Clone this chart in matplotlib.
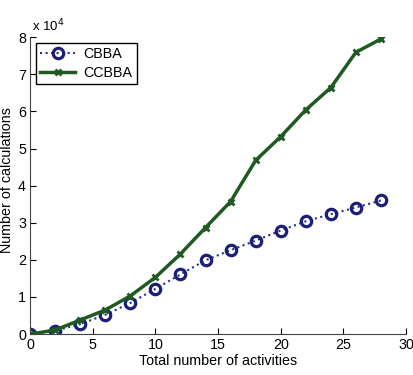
import numpy as np
import matplotlib
matplotlib.use("Agg")
import matplotlib.pyplot as plt

plt.rcParams['font.family'] = ['Liberation Sans', 'DejaVu Sans']

# -----------------------------
# Data (y in units of 1e4)
# -----------------------------
activities = [0, 2, 4, 6, 8, 10, 12, 14, 16, 18, 20, 22, 24, 26, 28]
cbba = [0.0, 0.09, 0.27, 0.52, 0.84, 1.22, 1.61, 1.99, 2.26, 2.52, 2.79, 3.04, 3.23, 3.41, 3.60]
ccbba = [0.0, 0.11, 0.38, 0.65, 1.03, 1.53, 2.16, 2.87, 3.57, 4.68, 5.32, 6.04, 6.64, 7.59, 7.95]
x_ticks = [0, 5, 10, 15, 20, 25, 30]
y_ticks = [0, 1, 2, 3, 4, 5, 6, 7, 8]

# -----------------------------
# Plot
# -----------------------------
fig = plt.figure(figsize=(4.13, 3.75), dpi=100)
ax = fig.add_axes([0.073, 0.109, 0.910, 0.792])

ax.plot(activities, cbba, linestyle=":", color="#2b2f8f", lw=1.5,
        marker="o", markersize=7.5, markerfacecolor="none",
        markeredgewidth=2.3, markeredgecolor="#1c1f78", label="CBBA")
ax.plot(activities, ccbba, linestyle="-", color="#1f5a22", lw=2.5,
        marker="x", markersize=5, markeredgewidth=2, label="CCBBA")

ax.set_xlim(0, 30)
ax.set_ylim(0, 8)
ax.set_xticks(x_ticks)
ax.set_yticks(y_ticks)
ax.tick_params(direction="in", labelsize=10.3, length=4, pad=3)
for s in ["top", "right"]:
    ax.spines[s].set_visible(False)
ax.spines["left"].set_color("#444444")
ax.spines["bottom"].set_color("#444444")

ax.set_xlabel("Total number of activities", fontsize=10.3, labelpad=1)
ax.set_ylabel("Number of calculations", fontsize=10.3)
ax.yaxis.set_label_coords(-0.044, 0.52)
ax.text(0.005, 1.008, r"x 10$^4$", transform=ax.transAxes, fontsize=9.5,
        ha="left", va="bottom")

leg = ax.legend(loc="upper left", fontsize=10.3, fancybox=False, framealpha=1,
                edgecolor="black", handlelength=2.4, borderpad=0.3,
                labelspacing=0.3, handletextpad=0.6, borderaxespad=0,
                bbox_to_anchor=(0.016, 0.98))
leg.get_frame().set_linewidth(1.0)

plt.savefig("out.png", dpi=100)
